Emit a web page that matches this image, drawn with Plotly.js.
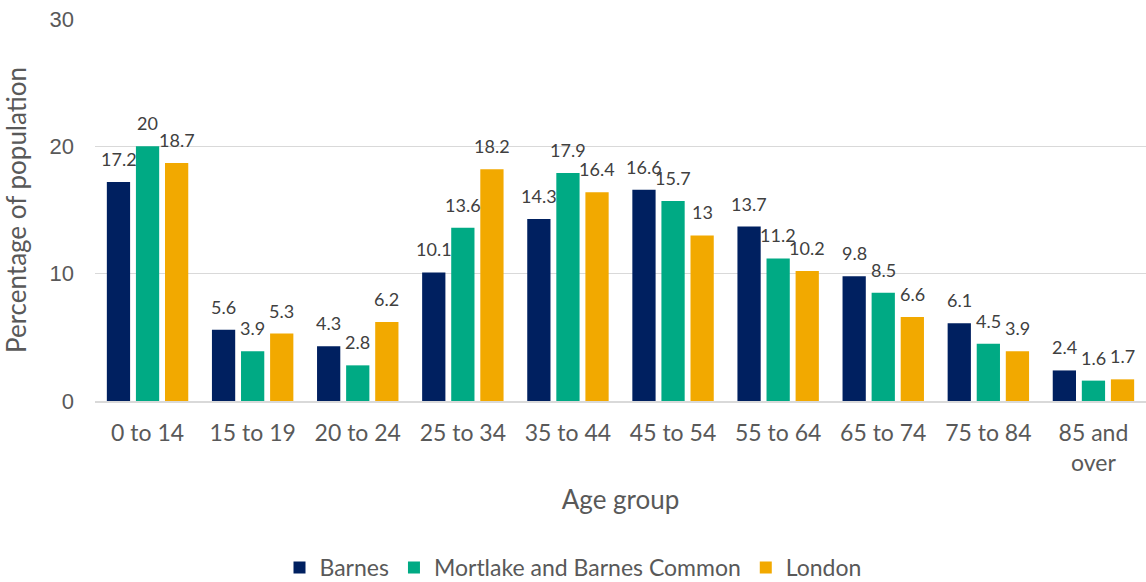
<!DOCTYPE html>
<html><head><meta charset="utf-8">
<script src="https://cdn.plot.ly/plotly-3.0.1.min.js"></script>
<style>body{margin:0;background:#fff}#c{width:1146px;height:582px}</style>
</head><body><div id="c"></div>
<script>
const categories = ["0 to 14","15 to 19","20 to 24","25 to 34","35 to 44","45 to 54","55 to 64","65 to 74","75 to 84","85 and<br>over"];
const barnes = [17.2,5.6,4.3,10.1,14.3,16.6,13.7,9.8,6.1,2.4];
const mortlake = [20,3.9,2.8,13.6,17.9,15.7,11.2,8.5,4.5,1.6];
const london = [18.7,5.3,6.2,18.2,16.4,13,10.2,6.6,3.9,1.7];
const seriesNames = ["Barnes","Mortlake and Barnes Common","London"];
const colors = ["#002060","#00AA84","#F2A900"];
const vals = [barnes, mortlake, london];
const traces = vals.map((v,i)=>({
  type:'bar', x:categories, y:v, name:seriesNames[i],
  marker:{color:colors[i]},
  hoverinfo:'skip'
}));
const annotations = [];
vals.forEach((v,i)=>{
  v.forEach((val,j)=>{
    annotations.push({x:categories[j], y:val, xref:'x', yref:'y', text:String(val),
      showarrow:false, xanchor:'center', yanchor:'bottom', xshift:(i-1)*29, yshift:10,
      font:{family:'Lato', size:18, color:'#404040'}});
  });
});
const layout = {
  width:1146, height:582,
  margin:{l:95, r:0, t:19, b:181},
  paper_bgcolor:'#fff', plot_bgcolor:'#fff',
  barmode:'group', bargap:0.17, bargroupgap:0.2,
  font:{family:'Lato', color:'#595959'},
  annotations:annotations,
  xaxis:{
    automargin:false,
    tickfont:{family:'Lato', size:23, color:'#595959'},
    title:{text:'Age group', font:{family:'Lato', size:26, color:'#595959'}, standoff:16},
    showline:true, linecolor:'#d9d9d9', linewidth:2, ticks:'', ticklen:0, ticklabelstandoff:10
  },
  yaxis:{
    automargin:false,
    range:[0,30], dtick:10,
    tickfont:{family:'Liberation Sans', size:22, color:'#595959'},
    title:{text:'Percentage of population', font:{family:'Lato', size:26, color:'#595959'}, standoff:20},
    gridcolor:'#d9d9d9', gridwidth:1.5, zeroline:false, ticks:'', ticklabelstandoff:20
  },
  legend:{orientation:'h', x:0.5, xanchor:'center', xref:'container', yref:'container', y:0.025, yanchor:'middle',
    font:{family:'Lato', size:23, color:'#595959'}, tracegroupgap:0},
  showlegend:true
};
Plotly.newPlot('c', traces, layout, {displayModeBar:false, staticPlot:true});
</script></body></html>
